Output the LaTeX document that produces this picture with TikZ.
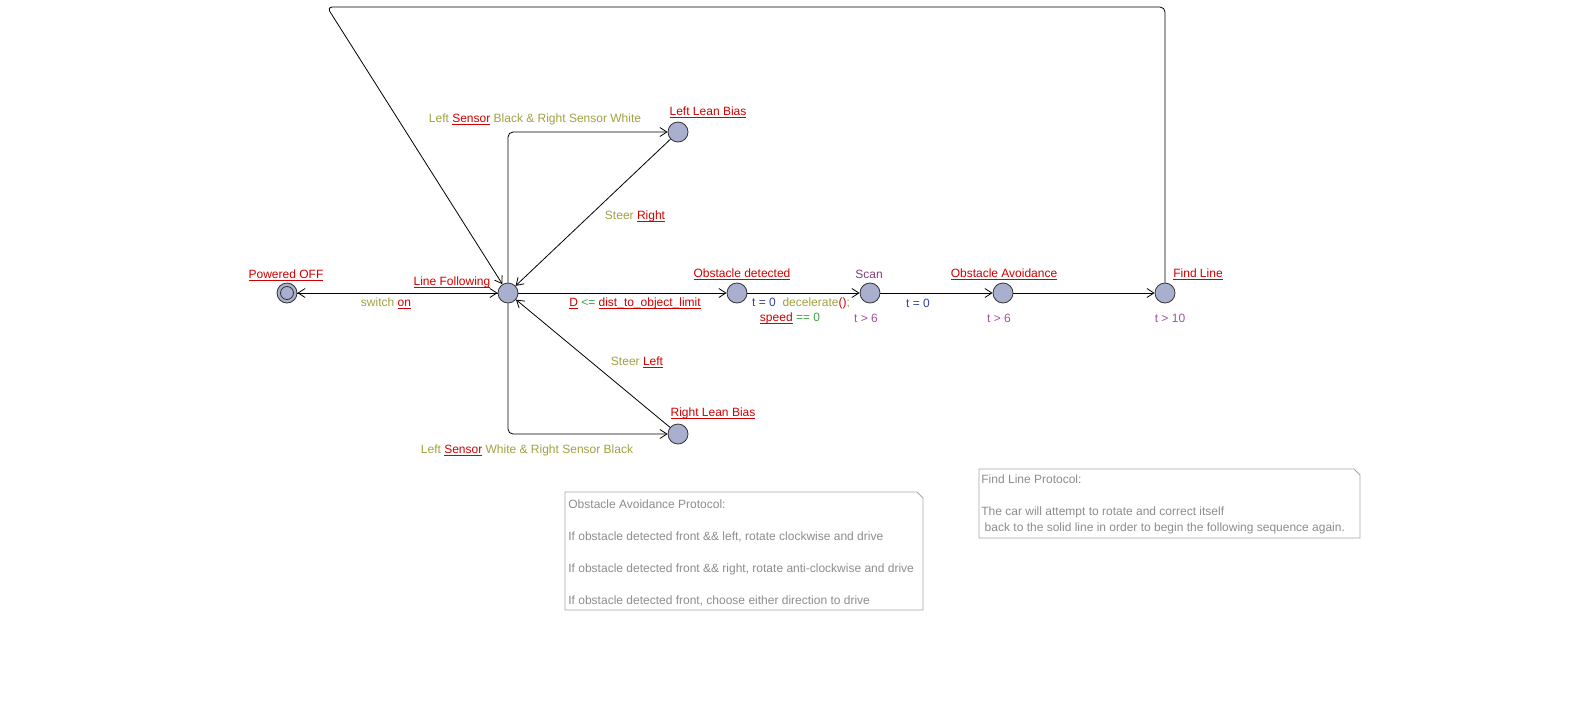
\documentclass[tikz,border=0pt]{standalone}
\usepackage{amsmath}
\usepackage{fontspec}
\setmainfont{Liberation Sans}
\usetikzlibrary{arrows.meta}
\definecolor{locfill}{HTML}{A8AFCF}
\definecolor{errred}{HTML}{D00000}
\definecolor{selcol}{HTML}{A0A040}
\definecolor{guardcol}{HTML}{40A040}
\definecolor{updcol}{HTML}{3040A0}
\definecolor{namecol}{HTML}{804080}
\definecolor{invcol}{HTML}{A050A0}
\definecolor{notecol}{HTML}{8C8C8C}
\newcommand{\bad}[1]{\textcolor{errred}{$\underline{\smash[b]{\hbox{#1}}}$}}
\tikzset{
  loc/.style={circle, draw=black!80, fill=locfill, minimum size=20pt, inner sep=0pt},
  lbl/.style={font=\fontsize{12}{14}\selectfont, inner sep=0pt},
  notebox/.style={draw=black!35, line width=0.8pt},
  notetext/.style={font=\fontsize{12}{16}\selectfont, text=notecol, align=left, inner sep=0pt}
}
\begin{document}
\begin{tikzpicture}[x=1pt, y=-1pt, line width=0.8pt, >={Straight Barb[length=7pt,width=9pt]}]
\useasboundingbox (0,0) rectangle (1589,721);
% locations
\node[loc] (off) at (287,293) {};
\node[circle, draw=black!80, minimum size=13pt, inner sep=0pt] (offin) at (off) {};
\node[loc] (follow) at (508,293) {};
\node[loc] (leftbias) at (678,132) {};
\node[loc] (rightbias) at (678,434) {};
\node[loc] (obst) at (737,293) {};
\node[loc] (scan) at (870,293) {};
\node[loc] (avoid) at (1003,293) {};
\node[loc] (find) at (1165,293) {};
% location names and invariants
\node[lbl] (offname) at (286,275) {\bad{Powered OFF}};
\node[lbl] (followname) at (452,282) {\bad{Line Following}};
\node[lbl] (leftbiasname) at (708,112) {\bad{Left Lean Bias}};
\node[lbl] (rightbiasname) at (713,413) {\bad{Right Lean Bias}};
\node[lbl] (obstname) at (742,274) {\bad{Obstacle detected}};
\node[lbl, text=namecol] (scanname) at (869,274) {Scan};
\node[lbl] (avoidname) at (1004,274) {\bad{Obstacle Avoidance}};
\node[lbl] (findname) at (1198,274) {\bad{Find Line}};
\node[lbl, text=invcol] (scaninv) at (866,318) {t > 6};
\node[lbl, text=invcol] (avoidinv) at (999,318) {t > 6};
\node[lbl, text=invcol] (findinv) at (1170,318) {t > 10};
% edges
\draw[->] (off) -- (follow);
\draw[->] (follow) -- (off);
\draw[->, rounded corners=5pt] (follow) |- (leftbias);
\draw[->] (leftbias) -- (follow);
\draw[->, rounded corners=5pt] (follow) |- (rightbias);
\draw[->] (rightbias) -- (follow);
\draw[->] (follow) -- (obst);
\draw[->] (obst) -- (scan);
\draw[->] (scan) -- (avoid);
\draw[->] (avoid) -- (find);
\coordinate (backr) at (1165,7);
\coordinate (backl) at (327,7);
\draw[->, rounded corners=5pt] (find) -- (backr) -- (backl) -- (follow);
% edge labels
\node[lbl] (onlbl) at (386,303) {\textcolor{selcol}{switch} \bad{on}};
\node[lbl] (guardlbl) at (635,303) {\bad{D} \textcolor{guardcol}{<=} \bad{dist\_to\_object\_limit}};
\node[lbl] (declbl) at (801,303) {\textcolor{updcol}{t = 0}\ \ \textcolor{selcol}{decelerate}\textcolor{errred}{()}\textcolor{selcol}{;}};
\node[lbl] (speedlbl) at (790,318) {\bad{speed} \textcolor{guardcol}{== 0}};
\node[lbl, text=updcol] (resetlbl) at (918,303) {t = 0};
\node[lbl] (leftcond) at (535,119) {\textcolor{selcol}{Left} \bad{Sensor} \textcolor{selcol}{Black \& Right Sensor White}};
\node[lbl] (rightsteer) at (635,216) {\textcolor{selcol}{Steer} \bad{Right}};
\node[lbl] (leftsteer) at (637,362) {\textcolor{selcol}{Steer} \bad{Left}};
\node[lbl] (rightcond) at (527,450) {\textcolor{selcol}{Left} \bad{Sensor} \textcolor{selcol}{White \& Right Sensor Black}};
% notes
\draw[notebox] (565,492) -- (917,492) -- (923,498) -- (923,610) -- (565,610) -- cycle;
\node[notetext, anchor=north west] (obsnote) at (568,499) {Obstacle Avoidance Protocol:\\[16pt]
If obstacle detected front \&\& left, rotate clockwise and drive\\[16pt]
If obstacle detected front \&\& right, rotate anti-clockwise and drive\\[16pt]
If obstacle detected front, choose either direction to drive};
\draw[notebox] (979,469) -- (1354,469) -- (1360,475) -- (1360,538) -- (979,538) -- cycle;
\node[notetext, anchor=north west] (findnote) at (981,474) {Find Line Protocol:\\[16pt]
The car will attempt to rotate and correct itself\\
\ back to the solid line in order to begin the following sequence again.};
\end{tikzpicture}
\end{document}
